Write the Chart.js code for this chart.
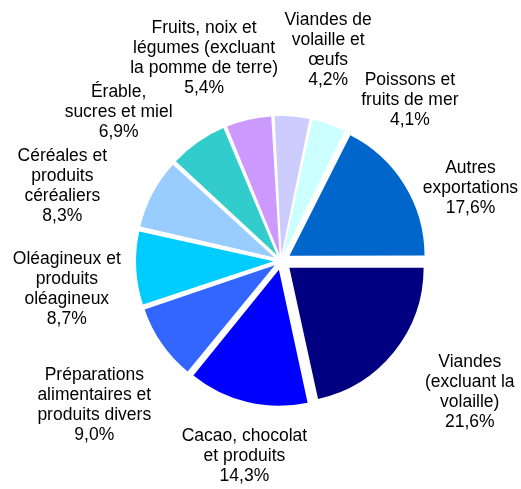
<!DOCTYPE html>
<html>
<head>
<meta charset="utf-8">
<script src="https://cdn.jsdelivr.net/npm/chart.js@4/dist/chart.umd.min.js"></script>
<style>
  body { margin: 0; background: #fff; }
</style>
</head>
<body>
<canvas id="pie" width="521" height="489"></canvas>
<script>
// categories, clockwise from 3 o'clock (first slice starts at 90deg like excel)
const categories = [
  ['Viandes', '(excluant la', 'volaille)'],
  ['Cacao, chocolat', 'et produits'],
  ['Préparations', 'alimentaires et', 'produits divers'],
  ['Oléagineux et', 'produits', 'oléagineux'],
  ['Céréales et', 'produits', 'céréaliers'],
  ['Érable,', 'sucres et miel'],
  ['Fruits, noix et', 'légumes (excluant', 'la pomme de terre)'],
  ['Viandes de', 'volaille et', 'œufs'],
  ['Poissons et', 'fruits de mer'],
  ['Autres', 'exportations']
]
const shares = [21.6, 14.3, 9.0, 8.7, 8.3, 6.9, 5.4, 4.2, 4.1, 17.6]
const colors = ['#000080', '#0000FF', '#3366FF', '#00CCFF', '#99CCFF',
                '#33CCCC', '#CC99FF', '#CCCCFF', '#CCFFFF', '#0066CC']

// label placement: angle nudge (deg) from slice middle, distance from centre
const labelNudge = [-4, -2.8, -3, -4.5, -8.9, -12.6, -7.9, 8.2, 19.4, 10.6]
const labelDist = [230, 199, 236, 216, 231, 220, 217, 216, 206, 203]

const EXPLODE = 11   // px every slice is pulled out
const FONT = '17.5px "Liberation Sans", Arial, sans-serif'
const LINE_H = 20

const total = shares.reduce((a, b) => a + b, 0)

// chart.js shifts an arc by offset/4 * (2 - sin(circumference)),
// so undo that to get the same pull-out for every slice (excel style)
function sliceOffset(c){
  const circ = c.dataset.data[c.dataIndex] / total * Math.PI * 2
  return 4 * EXPLODE / (2 - Math.sin(Math.min(Math.PI, circ)))
}

const pieLabels = {
  id: 'pieLabels',
  afterDatasetsDraw(chart){
    const ctx = chart.ctx
    const arcs = chart.getDatasetMeta(0).data
    ctx.save()
    ctx.font = FONT
    ctx.fillStyle = '#000'
    ctx.textAlign = 'center'
    ctx.textBaseline = 'middle'
    arcs.forEach((arc, i) => {
      const p = arc.getProps(['x', 'y', 'startAngle', 'endAngle'], true)
      const mid = (p.startAngle + p.endAngle) / 2 + labelNudge[i] * Math.PI / 180
      const lx = p.x + labelDist[i] * Math.cos(mid)
      const ly = p.y + labelDist[i] * Math.sin(mid)
      const lines = categories[i].concat([shares[i].toFixed(1).replace('.', ',') + '%'])
      const top = ly - (lines.length - 1) * LINE_H / 2
      lines.forEach((t, k) => ctx.fillText(t, lx, top + k * LINE_H))
    })
    ctx.restore()
  }
}

new Chart(document.getElementById('pie'), {
  type: 'pie',
  data: {
    labels: categories.map(c => c.join(' ')),
    datasets: [{
      data: shares,
      backgroundColor: colors,
      borderWidth: 0,
      offset: sliceOffset,
      hoverOffset: 0,
      rotation: 90,
      radius: 134
    }]
  },
  options: {
    responsive: false,
    animation: false,
    events: [],
    rotation: 90,
    radius: 134,
    layout: { padding: { left: 41, top: 33, right: 0, bottom: 0 } },
    plugins: {
      legend: { display: false },
      tooltip: { enabled: false }
    }
  },
  plugins: [pieLabels]
})
</script>
</body>
</html>
